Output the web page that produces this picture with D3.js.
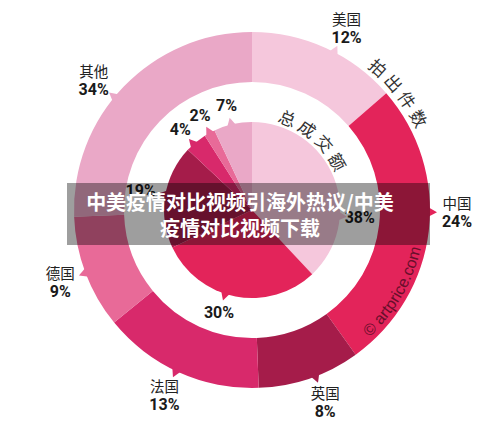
<!DOCTYPE html>
<html>
<head>
<meta charset="utf-8">
<script src="https://cdn.jsdelivr.net/npm/d3@7"></script>
<style>
  body { margin: 0; background: #fff; }
  svg { display: block; }
</style>
</head>
<body>
<svg></svg>
<script>
var ringNames = ['美国', '中国', '英国', '法国', '德国', '其他'];
var ringLabels = ['12%', '24%', '8%', '13%', '9%', '34%'];
// the ring is not drawn to its printed numbers, so the sizes are read off the picture
var ringShares = [13.6, 26.5, 9.3, 14.7, 10.3, 25.6];
var pieValues = [38, 30, 19, 4, 2, 7];
var pieLabels = ['38%', '30%', '19%', '4%', '2%', '7%'];
var titleLines = ['中美疫情对比视频引海外热议/中美', '疫情对比视频下载'];

var width = 500;
var height = 430;
var cx = 252, cy = 210;
var rad = Math.PI / 180;
var cjk = '"Noto Sans CJK SC", "Noto Sans", sans-serif';
var num = '"Liberation Sans Narrow", Roboto, "Liberation Sans", sans-serif';

var colorScale = d3.scaleOrdinal()
                   .domain(ringNames)
                   .range(['#f5c7dc', '#e3245a', '#a51c4a', '#d8296b', '#e86a98', '#eaa8c7']);

var svg = d3.select('svg')
    .attr('width', width)
    .attr('height', height);

var chart = svg.append('g')
    .attr('transform', 'translate(' + cx + ',' + cy + ')');

function polar(r, a) {
  return [r * Math.sin(a), -r * Math.cos(a)];
}

// little tail that points from a slice to its label
function tail(r, a, h, w) {
  var d = w / r;
  var p = d3.path();
  var p0 = polar(r - 2, a - d), p1 = polar(r + h, a), p2 = polar(r - 2, a + d);
  p.moveTo(p0[0], p0[1]);
  p.lineTo(p1[0], p1[1]);
  p.lineTo(p2[0], p2[1]);
  p.closePath();
  return p.toString();
}

function circlePath(r, a0, a1, ccw) {
  var p = d3.path();
  p.arc(0, 0, r, a0 - Math.PI / 2, a1 - Math.PI / 2, ccw);
  return p.toString();
}

// outer ring
var ringArcs = d3.pie().sort(null).value(d => d)(ringShares);
var ringPath = d3.arc().innerRadius(128).outerRadius(178);
var ringNudge = [3, -6, -2, 1, 0, -4.5];

chart.selectAll('.ring')
    .data(ringArcs)
  .enter()
  .append('path')
    .classed('ring', true)
    .attr('fill', (d, i) => colorScale(ringNames[i]))
    .attr('d', ringPath);

// inner pie
var pieArcs = d3.pie().sort(null).value(d => d)(pieValues);
var piePath = d3.arc().innerRadius(0).outerRadius(88);
var pieNudge = [25.6, 7, 1, -2, 0, -1];

chart.selectAll('.slice')
    .data(pieArcs)
  .enter()
  .append('path')
    .classed('slice', true)
    .attr('fill', (d, i) => colorScale(ringNames[i]))
    .attr('d', piePath);

function midAngle(d) {
  return (d.startAngle + d.endAngle) / 2;
}

chart.selectAll('.ringTail')
    .data(ringArcs)
  .enter()
  .append('path')
    .attr('fill', (d, i) => colorScale(ringNames[i]))
    .attr('d', (d, i) => tail(178, midAngle(d) + ringNudge[i] * rad, 7, 5));

chart.selectAll('.pieTail')
    .data(pieArcs)
  .enter()
  .append('path')
    .attr('fill', (d, i) => colorScale(ringNames[i]))
    .attr('d', (d, i) => tail(88, midAngle(d) + pieNudge[i] * rad, 7, 5));

// ring labels
var ringLabel = chart.selectAll('.ringLabel')
    .data(ringArcs)
  .enter()
  .append('g')
    .attr('transform', (d, i) => 'translate(' + polar(205, midAngle(d) + ringNudge[i] * rad) + ')');

ringLabel.append('text')
    .attr('y', -9.5)
    .attr('text-anchor', 'middle')
    .attr('dominant-baseline', 'central')
    .style('font-family', cjk)
    .style('font-size', '14.5px')
    .style('fill', '#222')
    .text((d, i) => ringNames[i]);

ringLabel.append('text')
    .attr('y', 9.5)
    .attr('text-anchor', 'middle')
    .attr('dominant-baseline', 'central')
    .style('font-family', num)
    .style('font-weight', 'bold')
    .style('font-size', '16px')
    .style('fill', '#1a1a1a')
    .text((d, i) => ringLabels[i]);

// pie labels
chart.selectAll('.pieLabel')
    .data(pieArcs)
  .enter()
  .append('text')
    .attr('transform', (d, i) => 'translate(' + polar(i === 2 ? 113 : 108, midAngle(d) + pieNudge[i] * rad) + ')')
    .attr('text-anchor', 'middle')
    .attr('dominant-baseline', 'central')
    .style('font-family', num)
    .style('font-weight', 'bold')
    .style('font-size', '16px')
    .style('fill', '#1a1a1a')
    .text((d, i) => pieLabels[i]);

// curved captions
var defs = svg.append('defs');
defs.append('path').attr('id', 'outerCap').attr('d', circlePath(183.5, 12 * rad, 92 * rad, false));
defs.append('path').attr('id', 'innerCap').attr('d', circlePath(91.5, -8 * rad, 92 * rad, false));
defs.append('path').attr('id', 'mark').attr('d', circlePath(173, 160 * rad, 80 * rad, true));

var caps = [['outerCap', '拍出件数'], ['innerCap', '总成交额']];
caps.forEach(function(c) {
  chart.append('text')
      .style('font-family', cjk)
      .style('font-size', '17px')
      .style('letter-spacing', '4px')
      .style('fill', '#333')
    .append('textPath')
      .attr('href', '#' + c[0])
      .attr('startOffset', '50%')
      .attr('text-anchor', 'middle')
      .text(c[1]);
});

chart.append('text')
    .style('font-family', '"Liberation Sans", Arial, sans-serif')
    .style('font-size', '16px')
    .style('fill', '#4a0a1f')
    .style('opacity', 0.8)
  .append('textPath')
    .attr('href', '#mark')
    .attr('startOffset', '50%')
    .attr('text-anchor', 'middle')
    .text('© artprice.com');

// title banner laid over the chart
svg.append('rect')
    .attr('x', 67)
    .attr('y', 183)
    .attr('width', 363)
    .attr('height', 62)
    .attr('fill', 'rgba(0,0,0,0.38)');

svg.selectAll('.title')
    .data(titleLines)
  .enter()
  .append('text')
    .attr('x', 240)
    .attr('y', (d, i) => 201 + i * 26)
    .attr('text-anchor', 'middle')
    .attr('dominant-baseline', 'central')
    .style('font-family', cjk)
    .style('font-weight', 'bold')
    .style('font-size', '20px')
    .style('fill', '#fff')
    .text(d => d);
</script>
</body>
</html>
